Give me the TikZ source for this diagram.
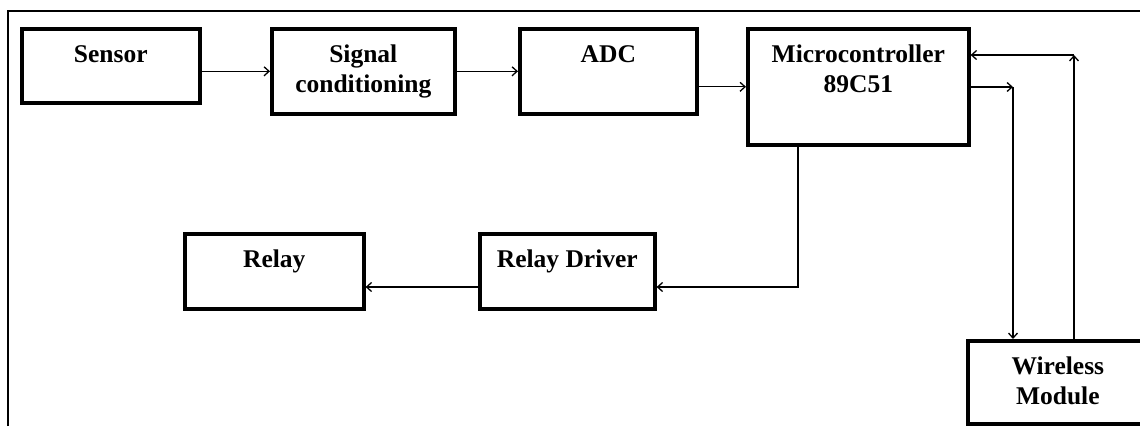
\documentclass[tikz,border=0pt]{standalone}
\usepackage{fontspec}
\setmainfont{Liberation Serif}
\usepackage{tikz}
\usetikzlibrary{arrows.meta}

\begin{document}
\begin{tikzpicture}[x=1pt, y=-1pt, >={Straight Barb[length=5pt,width=9pt]},
  block/.style={draw, line width=3.6pt, anchor=north west, inner sep=0pt,
    align=center, font=\bfseries\fontsize{25.5}{30}\selectfont, text height=34pt},
  twoline/.style={text height=64pt},
  link/.style={->, line width=1.3pt}]

\useasboundingbox (0,0) rectangle (1140,426);

% outer frame
\draw [line width=2.4pt] (8,426) -- (8,11) -- (1140,11);

% blocks
\node [block, minimum width=178pt, text depth=40pt] (sensor) at (20,27) {Sensor};
\node [block, twoline, minimum width=183pt, text depth=21pt] (signal) at (270,27) {Signal\\conditioning};
\node [block, minimum width=177pt, text depth=51pt] (adc) at (518,27) {ADC};
\node [block, twoline, minimum width=221pt, text depth=52pt] (micro) at (746,27) {Microcontroller\\89C51};
\node [block, minimum width=179pt, text depth=41pt] (relay) at (183,232) {Relay};
\node [block, minimum width=175pt, text depth=41pt] (driver) at (478,232) {Relay Driver};
\node [block, twoline, minimum width=180pt, text depth=19pt] (wireless) at (966,339) {Wireless\\Module};

% turning points
\coordinate (tx) at (1013,87);
\coordinate (rx) at (1074,55);
\coordinate (dx) at (798,287);

% forward chain
\draw [link] (sensor.east |- signal.west) -- (signal.west);
\draw [link] (signal) -- (adc);
\draw [link] (adc.east |- micro.west) -- (micro.west);

% to and from the wireless module
\draw [link] (micro.east |- tx) -- (tx);
\draw [link] (tx) -- (tx |- wireless.north);
\draw [link] (wireless.north -| rx) -- (rx);
\draw [link] (rx) -- (rx -| micro.east);

% relay branch
\draw [link] (micro.south -| dx) -- (dx) -- (driver.east |- dx);
\draw [link] (driver.west |- dx) -- (relay.east |- dx);

\end{tikzpicture}
\end{document}
